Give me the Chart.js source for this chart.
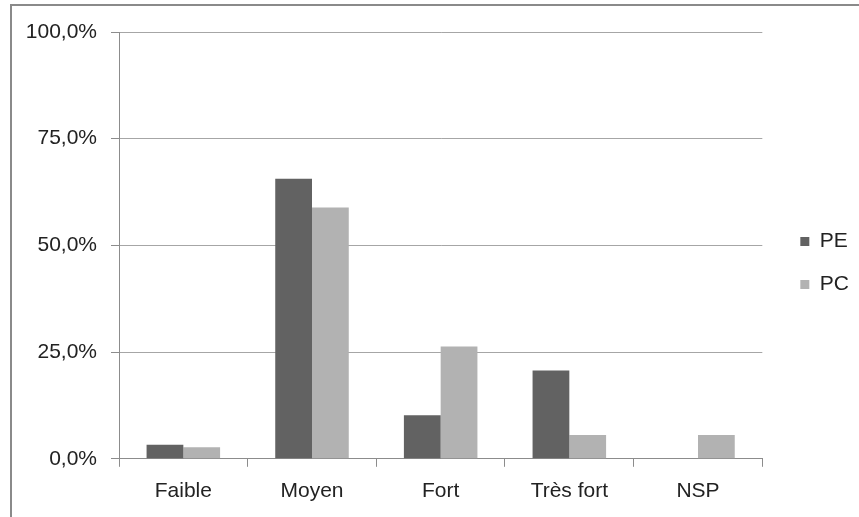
<!DOCTYPE html>
<html>
<head>
<meta charset="utf-8">
<script src="https://cdn.jsdelivr.net/npm/chart.js@4/dist/chart.umd.min.js"></script>
<style>
  html, body { margin: 0; padding: 0; background: #ffffff; }
  #wrap { position: relative; width: 859px; height: 517px; overflow: hidden; background: #ffffff; }
  #frame { position: absolute; left: 10px; top: 4px; width: 900px; height: 600px;
           border-top: 2px solid #8a8a8a; border-left: 2px solid #8a8a8a; box-sizing: border-box; }
  #c { position: absolute; left: 0; top: 0; }
</style>
</head>
<body>
<div id="wrap">
  <div id="frame"></div>
  <canvas id="c" width="859" height="517"></canvas>
</div>
<script>
const categories = ['Faible', 'Moyen', 'Fort', 'Très fort', 'NSP'];
const seriesNames = ['PE', 'PC'];
const valuesPE = [3.3, 65.6, 10.2, 20.7, 0];
const valuesPC = [2.7, 58.9, 26.3, 5.6, 5.6];
const yTicks = [0, 25, 50, 75, 100];

const FONT = "'Liberation Sans', Arial, sans-serif";
const TEXT = '#222222';
const AXIS = '#8c8c8c';
const GRID = '#a6a6a6';

const legendShift = {
  id: 'legendShift',
  afterLayout(chart) {
    if (chart.legend) { chart.legend.bottom -= 22; }
  }
};

new Chart(document.getElementById('c'), {
  type: 'bar',
  data: {
    labels: categories,
    datasets: [
      { label: seriesNames[0], data: valuesPE, backgroundColor: '#626262', borderWidth: 0,
        categoryPercentage: 2 / 3.5, barPercentage: 1.0 },
      { label: seriesNames[1], data: valuesPC, backgroundColor: '#b2b2b2', borderWidth: 0,
        categoryPercentage: 2 / 3.5, barPercentage: 1.0 }
    ]
  },
  plugins: [legendShift],
  options: {
    responsive: false,
    animation: false,
    devicePixelRatio: 1,
    layout: { padding: { left: 0, right: 0, top: 32, bottom: 1 } },
    plugins: {
      tooltip: { enabled: false },
      legend: {
        position: 'right',
        align: 'center',
        labels: {
          boxWidth: 9, boxHeight: 9, padding: 22,
          color: TEXT, font: { family: FONT, size: 21 }
        }
      }
    },
    scales: {
      x: {
        offset: true,
        grid: { display: true, drawOnChartArea: false, drawTicks: true, tickLength: 8, color: AXIS, offset: true },
        border: { display: true, color: AXIS, width: 1 },
        ticks: { color: TEXT, font: { family: FONT, size: 21 }, padding: 12, maxRotation: 0, autoSkip: false }
      },
      y: {
        min: 0, max: 100,
        afterBuildTicks: (s) => { s.ticks = yTicks.map(v => ({ value: v })); },
        afterFit: (s) => { s.width = 119; },
        grid: { color: GRID, tickLength: 8, drawTicks: true, tickColor: AXIS },
        border: { display: true, color: AXIS, width: 1 },
        ticks: {
          color: TEXT, font: { family: FONT, size: 21 }, padding: 14,
          callback: (v) => v.toFixed(1).replace('.', ',') + '%'
        }
      },
      yR: {
        position: 'right',
        display: true,
        grid: { display: false, drawTicks: false },
        border: { display: false },
        ticks: { display: false },
        afterFit: (s) => { s.width = 16; }
      }
    }
  }
});
</script>
</body>
</html>
